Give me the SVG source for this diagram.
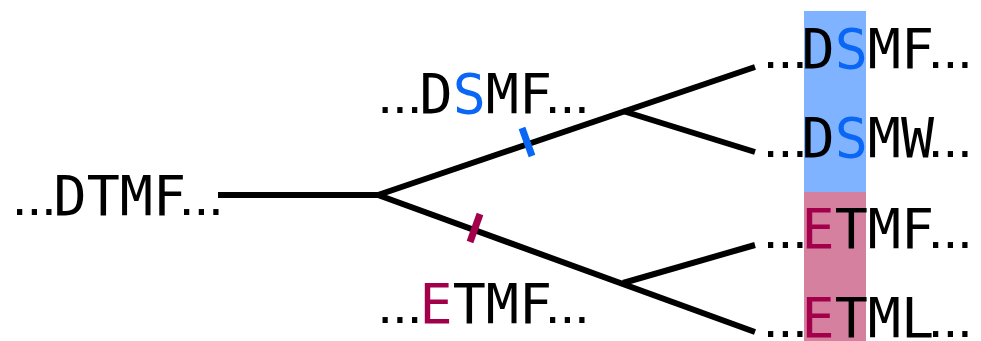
<svg xmlns="http://www.w3.org/2000/svg" width="981" height="341" viewBox="0 0 981 341">
<style>
text{font-family:"DejaVu Sans Mono",monospace;font-size:55px;fill:#000}
.d{font-family:"Liberation Sans",Arial,sans-serif;letter-spacing:-0.6px}
.b{fill:#0a66f5}
.r{fill:#a3004c}
.ln{stroke:#000;stroke-width:6;fill:none;stroke-linecap:butt}
</style>
<rect x="0" y="0" width="981" height="341" fill="#fff"/>
<rect x="804" y="11" width="62" height="181" fill="#80b3ff"/>
<rect x="804" y="192" width="62" height="149" fill="#d6809f"/>
<g id="connectors">
<line class="ln" x1="218" y1="195" x2="380" y2="195"/>
<line class="ln" x1="378" y1="195" x2="755" y2="67"/>
<line class="ln" x1="378" y1="195" x2="755" y2="332"/>
<line class="ln" x1="623" y1="111" x2="755" y2="152"/>
<line class="ln" x1="623" y1="283" x2="755" y2="245"/>
<line x1="522" y1="128" x2="532" y2="156" stroke="#0a66f5" stroke-width="7"/>
<line x1="480" y1="214" x2="470" y2="242" stroke="#a3004c" stroke-width="7"/>
</g>
<g id="n-dtmf"><text y="215"><tspan class="d" x="12">...</tspan><tspan x="53.6">DTMF</tspan><tspan class="d" x="179">...</tspan></text></g>
<g id="n-dsmf-mid"><text y="113"><tspan class="d" x="377.6">...</tspan><tspan x="419.6">D<tspan class="b">S</tspan>MF</tspan><tspan class="d" x="545">...</tspan></text></g>
<g id="n-etmf-mid"><text y="323"><tspan class="d" x="377.6">...</tspan><tspan x="419.6"><tspan class="r">E</tspan>TMF</tspan><tspan class="d" x="545">...</tspan></text></g>
<g id="n-dsmf"><text y="68"><tspan class="d" x="763">...</tspan><tspan x="801.6">D<tspan class="b">S</tspan>MF</tspan><tspan class="d" x="928">...</tspan></text></g>
<g id="n-dsmw"><text y="157"><tspan class="d" x="763">...</tspan><tspan x="801.6">D<tspan class="b">S</tspan>MW</tspan><tspan class="d" x="928">...</tspan></text></g>
<g id="n-etmf"><text y="248"><tspan class="d" x="763">...</tspan><tspan x="801.6"><tspan class="r">E</tspan>TMF</tspan><tspan class="d" x="928">...</tspan></text></g>
<g id="n-etml"><text y="337"><tspan class="d" x="763">...</tspan><tspan x="801.6"><tspan class="r">E</tspan>TML</tspan><tspan class="d" x="928">...</tspan></text></g>
</svg>
